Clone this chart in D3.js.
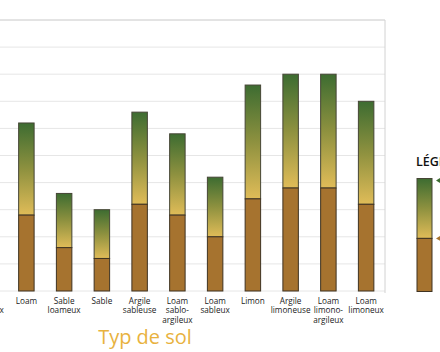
<!DOCTYPE html>
<html>
<head>
<meta charset="utf-8">
<script src="https://cdn.jsdelivr.net/npm/d3@7"></script>
<style>
  body { margin: 0; background: #fff; }
  svg { display: block; font-family: "Open Sans", sans-serif; }
</style>
</head>
<body>
<svg id="chart"></svg>
<script>
// Soil types (the first two are cut off on the left of the picture)
var categories = ["Argile", "Loam argileux", "Loam", "Sable loameux", "Sable", "Argile sableuse",
    "Loam sablo-argileux", "Loam sableux", "Limon", "Argile limoneuse",
    "Loam limono-argileux", "Loam limoneux"];

// Label lines under each bar
var labelLines = [["Argile"], ["Loam", "argileux"], ["Loam"], ["Sable", "loameux"], ["Sable"],
    ["Argile", "sableuse"], ["Loam", "sablo-", "argileux"], ["Loam", "sableux"], ["Limon"],
    ["Argile", "limoneuse"], ["Loam", "limono-", "argileux"], ["Loam", "limoneux"]];

// Lower part (brown) and total height of each bar
var unavailable = [22, 18, 14, 8, 6, 16, 14, 10, 17, 19, 19, 16];
var total = [40, 36, 31, 18, 15, 33, 29, 21, 38, 40, 40, 35];

var yTicks = [0, 5, 10, 15, 20, 25, 30, 35, 40, 45, 50];

var dimensions = {
    width: 440,
    height: 352,
    margin: { top: 20, bottom: 61, left: -68, right: 55 }
};

var svg = d3.select("#chart")
    .attr("width", dimensions.width)
    .attr("height", dimensions.height);

var xScale = d3.scaleBand()
    .domain(categories)
    .range([dimensions.margin.left, dimensions.width - dimensions.margin.right])
    .paddingInner(0.59)
    .paddingOuter(0.295);

var yScale = d3.scaleLinear()
    .domain([0, 50])
    .range([dimensions.height - dimensions.margin.bottom, dimensions.margin.top]);

var plotRight = dimensions.width - dimensions.margin.right;

// gradient for the available-water part
var defs = svg.append("defs");
var grad = defs.append("linearGradient")
    .attr("id", "green")
    .attr("x1", 0).attr("y1", 0).attr("x2", 0).attr("y2", 1);
grad.append("stop").attr("offset", "0%").attr("stop-color", "#3d6c31");
grad.append("stop").attr("offset", "50%").attr("stop-color", "#8e913f");
grad.append("stop").attr("offset", "100%").attr("stop-color", "#e0bc58");

// gridlines
svg.append("g")
    .selectAll("line")
    .data(yTicks)
    .enter()
    .append("line")
    .attr("x1", 0)
    .attr("x2", plotRight)
    .attr("y1", function(d) { return yScale(d); })
    .attr("y2", function(d) { return yScale(d); })
    .attr("stroke", function(d) { return d === 50 ? "#c8c8c8" : "#e6e6e6"; })
    .attr("stroke-width", 1);

// right border of plot
svg.append("line")
    .attr("x1", plotRight).attr("x2", plotRight)
    .attr("y1", yScale(50)).attr("y2", yScale(0) + 2)
    .attr("stroke", "#d2d2d2");

var data = categories.map(function(c, i) {
    return { cat: c, low: unavailable[i], top: total[i], lines: labelLines[i] };
});

// upper part (gradient)
svg.append("g")
    .selectAll("rect")
    .data(data)
    .enter()
    .append("rect")
    .attr("x", function(d) { return xScale(d.cat); })
    .attr("width", xScale.bandwidth())
    .attr("y", function(d) { return yScale(d.top); })
    .attr("height", function(d) { return yScale(d.low) - yScale(d.top); })
    .attr("fill", "url(#green)")
    .attr("stroke", "#454535")
    .attr("stroke-width", 1);

// lower part (brown)
svg.append("g")
    .selectAll("rect")
    .data(data)
    .enter()
    .append("rect")
    .attr("x", function(d) { return xScale(d.cat); })
    .attr("width", xScale.bandwidth())
    .attr("y", function(d) { return yScale(d.low); })
    .attr("height", function(d) { return yScale(0) - yScale(d.low); })
    .attr("fill", "#a6732f")
    .attr("stroke", "#3f3322")
    .attr("stroke-width", 1);

// category labels
var labels = svg.append("g")
    .selectAll("text")
    .data(data)
    .enter()
    .append("text")
    .attr("text-anchor", "middle")
    .attr("font-size", 8.2)
    .attr("fill", "#222");

labels.selectAll("tspan")
    .data(function(d) { return d.lines.map(function(l) { return { l: l, cat: d.cat }; }); })
    .enter()
    .append("tspan")
    .attr("x", function(d) { return xScale(d.cat) + xScale.bandwidth() / 2; })
    .attr("y", function(d, i) { return yScale(0) + 13 + i * 9.3; })
    .text(function(d) { return d.l; });

// axis title
svg.append("text")
    .attr("x", 145)
    .attr("y", 344)
    .attr("text-anchor", "middle")
    .attr("font-size", 20)
    .attr("fill", "#e8b23e")
    .text("Typ de sol");

// legend (cut off at the right)
svg.append("text")
    .attr("x", 416)
    .attr("y", 166)
    .attr("font-size", 12.5)
    .attr("font-weight", 600)
    .attr("fill", "#111")
    .text("LÉGENDE");

var legendScale = d3.scaleLinear().domain([0, 1]).range([291.5, 178.5]);
svg.append("rect")
    .attr("x", 417).attr("width", 15)
    .attr("y", legendScale(1))
    .attr("height", legendScale(0.47) - legendScale(1))
    .attr("fill", "url(#green)")
    .attr("stroke", "#454535");
svg.append("rect")
    .attr("x", 417).attr("width", 15)
    .attr("y", legendScale(0.47))
    .attr("height", legendScale(0) - legendScale(0.47))
    .attr("fill", "#a6732f")
    .attr("stroke", "#3f3322");

svg.append("path")
    .attr("d", "M436," + (legendScale(1) + 2) + "l5,-3v6z")
    .attr("fill", "#3d6c31");
svg.append("path")
    .attr("d", "M436," + legendScale(0.47) + "l5,-3v6z")
    .attr("fill", "#a6732f");
</script>
</body>
</html>
